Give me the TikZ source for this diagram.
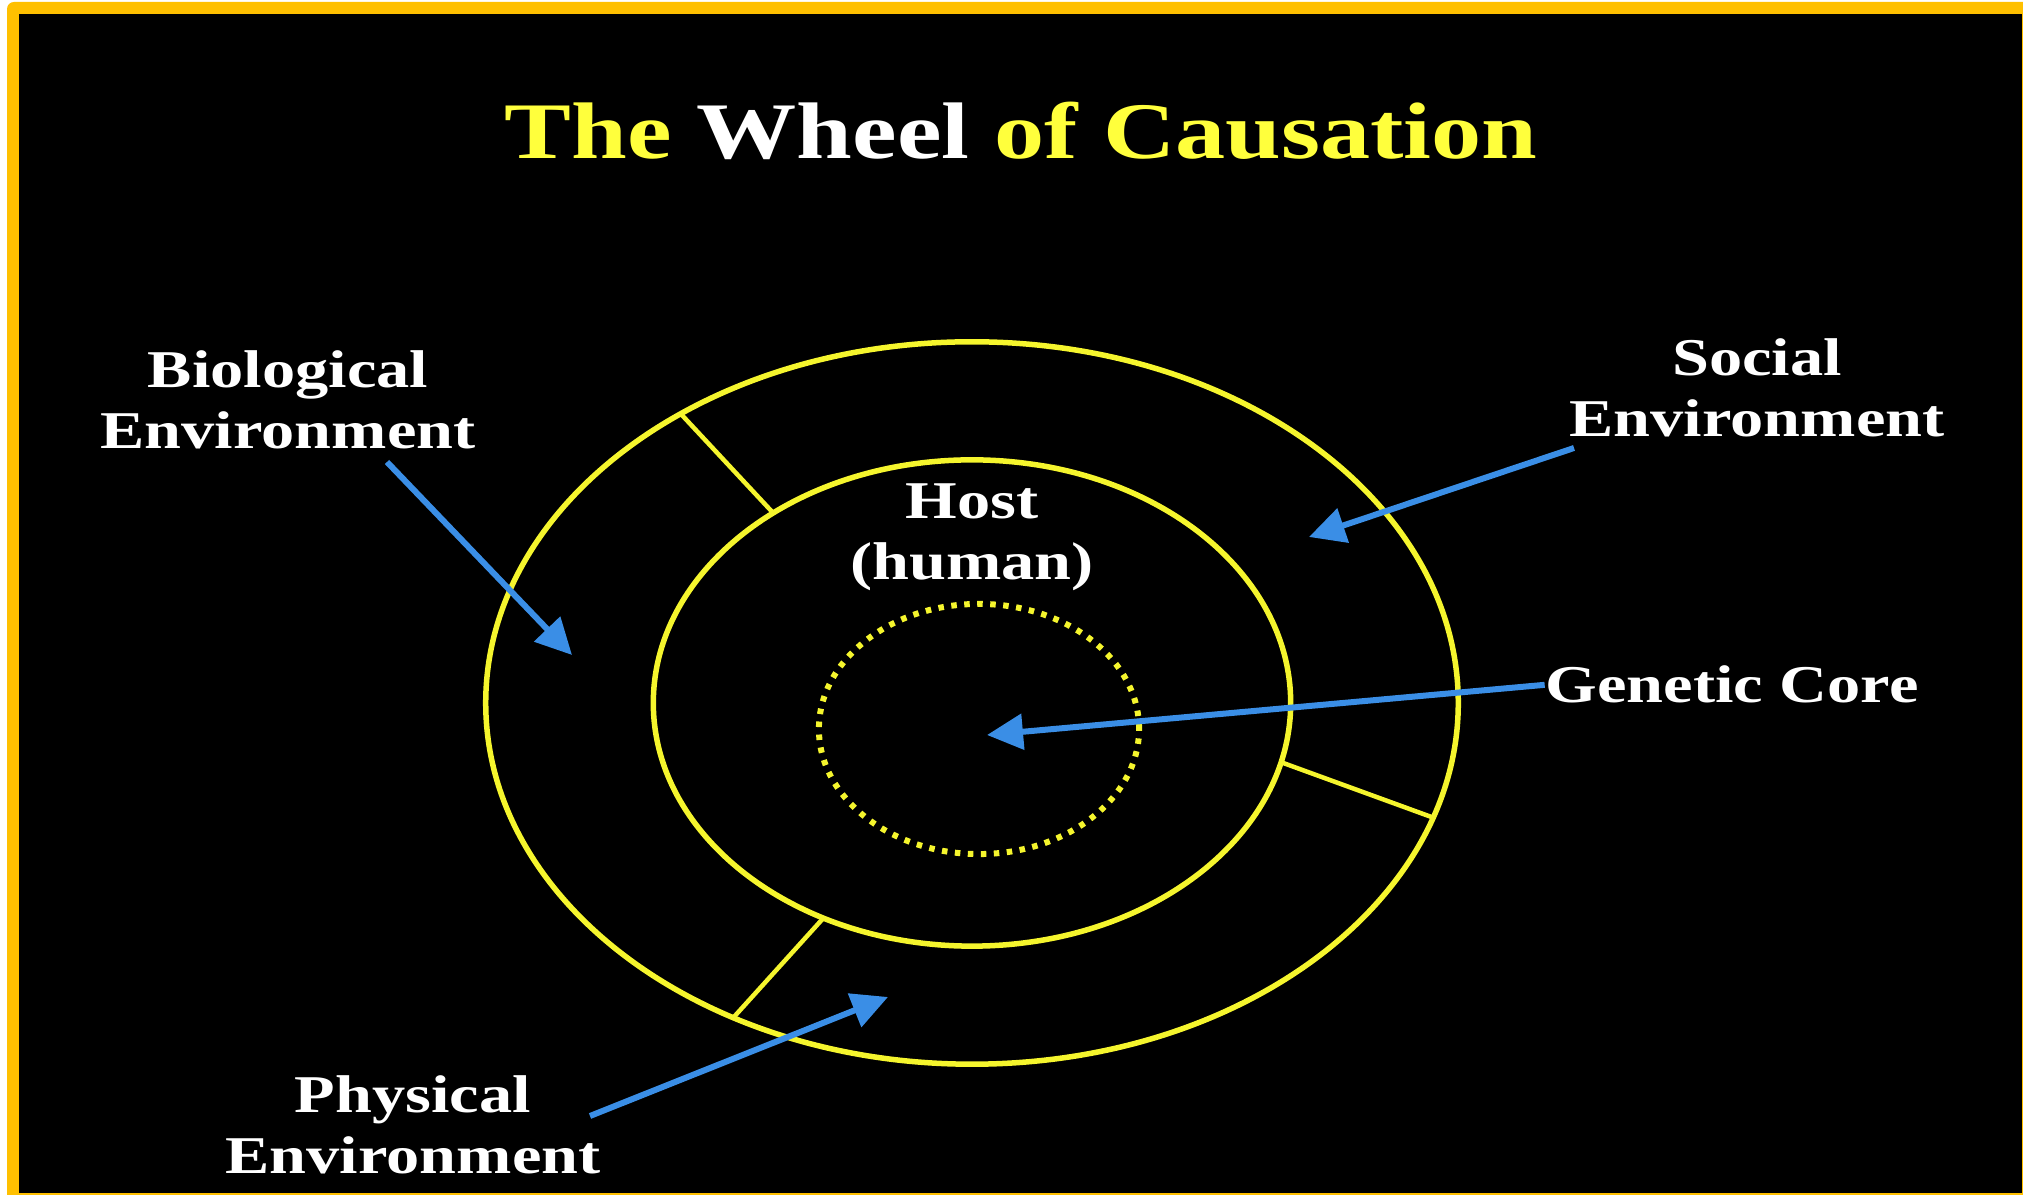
\documentclass[tikz,border=0pt]{standalone}
\usepackage{fontspec}
\setmainfont{Liberation Serif}
\usetikzlibrary{arrows.meta,calc}
\definecolor{frameorange}{RGB}{255,192,0}
\definecolor{wheelyellow}{RGB}{245,245,45}
\definecolor{titleyellow}{RGB}{255,255,60}
\definecolor{arrowblue}{RGB}{58,142,230}
\begin{document}
\begin{tikzpicture}[x=0.01cm,y=-0.01cm,
  ring/.style={draw=wheelyellow,line width=0.055cm},
  spoke/.style={draw=wheelyellow,line width=0.045cm},
  core/.style={draw=wheelyellow,line width=0.06cm,dash pattern=on 0.055cm off 0.075cm},
  pointer/.style={draw=arrowblue,line width=0.06cm,-{Triangle[length=0.36cm,width=0.35cm]}},
  lbl/.style={text=white,font=\bfseries\fontsize{15.1pt}{17.6pt}\selectfont,align=center,inner sep=0pt,xscale=1.25,transform shape,anchor=base},
  ttl/.style={font=\bfseries\fontsize{22.8pt}{26pt}\selectfont,inner sep=0pt,xscale=1.25,transform shape,anchor=base}
]
\useasboundingbox (0,0) rectangle (2023,1195);
\clip (0,0) rectangle (2023,1195);
\fill[white] (0,0) rectangle (2023,1195);
\fill[frameorange, rounded corners=0.07cm] (7,2) rectangle (2060,1230);
\fill[black] (19,14) rectangle (2022,1193);

% wheel
\coordinate (hub) at (972,703);
\coordinate (corec) at (979,729);
\draw[ring] (hub) ellipse [x radius=4.86cm, y radius=3.61cm];
\draw[ring] (hub) ellipse [x radius=3.185cm, y radius=2.43cm];
\draw[core] (corec) ellipse [x radius=1.60cm, y radius=1.25cm];
\draw[spoke] ($(hub)+(128.6:3.185cm and 2.43cm)$) -- ($(hub)+(126.8:4.86cm and 3.61cm)$);
\draw[spoke] ($(hub)+(-14.1:3.185cm and 2.43cm)$) -- ($(hub)+(-18.5:4.86cm and 3.61cm)$);
\draw[spoke] ($(hub)+(242.2:3.185cm and 2.43cm)$) -- ($(hub)+(240.6:4.86cm and 3.61cm)$);

% texts (base anchor = baseline of the last line)
\node[ttl] (title) at (1021,159) {\textcolor{titleyellow}{The} \textcolor{white}{Wheel} \textcolor{titleyellow}{of Causation}};
\node[lbl] (bio) at (288,449) {Biological\\Environment};
\node[lbl] (soc) at (1757,437) {Social\\Environment};
\node[lbl] (host) at (972,580) {Host\\(human)};
\node[lbl] (gen) at (1732,703) {Genetic Core};
\node[lbl] (phys) at (413,1174) {Physical\\Environment};

% arrows
\coordinate (biotail) at (387,462);  \coordinate (biotip) at (572,655);
\coordinate (soctail) at (1574,448); \coordinate (soctip) at (1309,537);
\coordinate (gentip) at (987,735);
\coordinate (phystail) at (590,1116); \coordinate (phystip) at (888,997);
\draw[pointer] (biotail) -- (biotip);
\draw[pointer] (soctail) -- (soctip);
\draw[pointer] (gen.west) -- (gentip);
\draw[pointer] (phystail) -- (phystip);
\end{tikzpicture}
\end{document}
